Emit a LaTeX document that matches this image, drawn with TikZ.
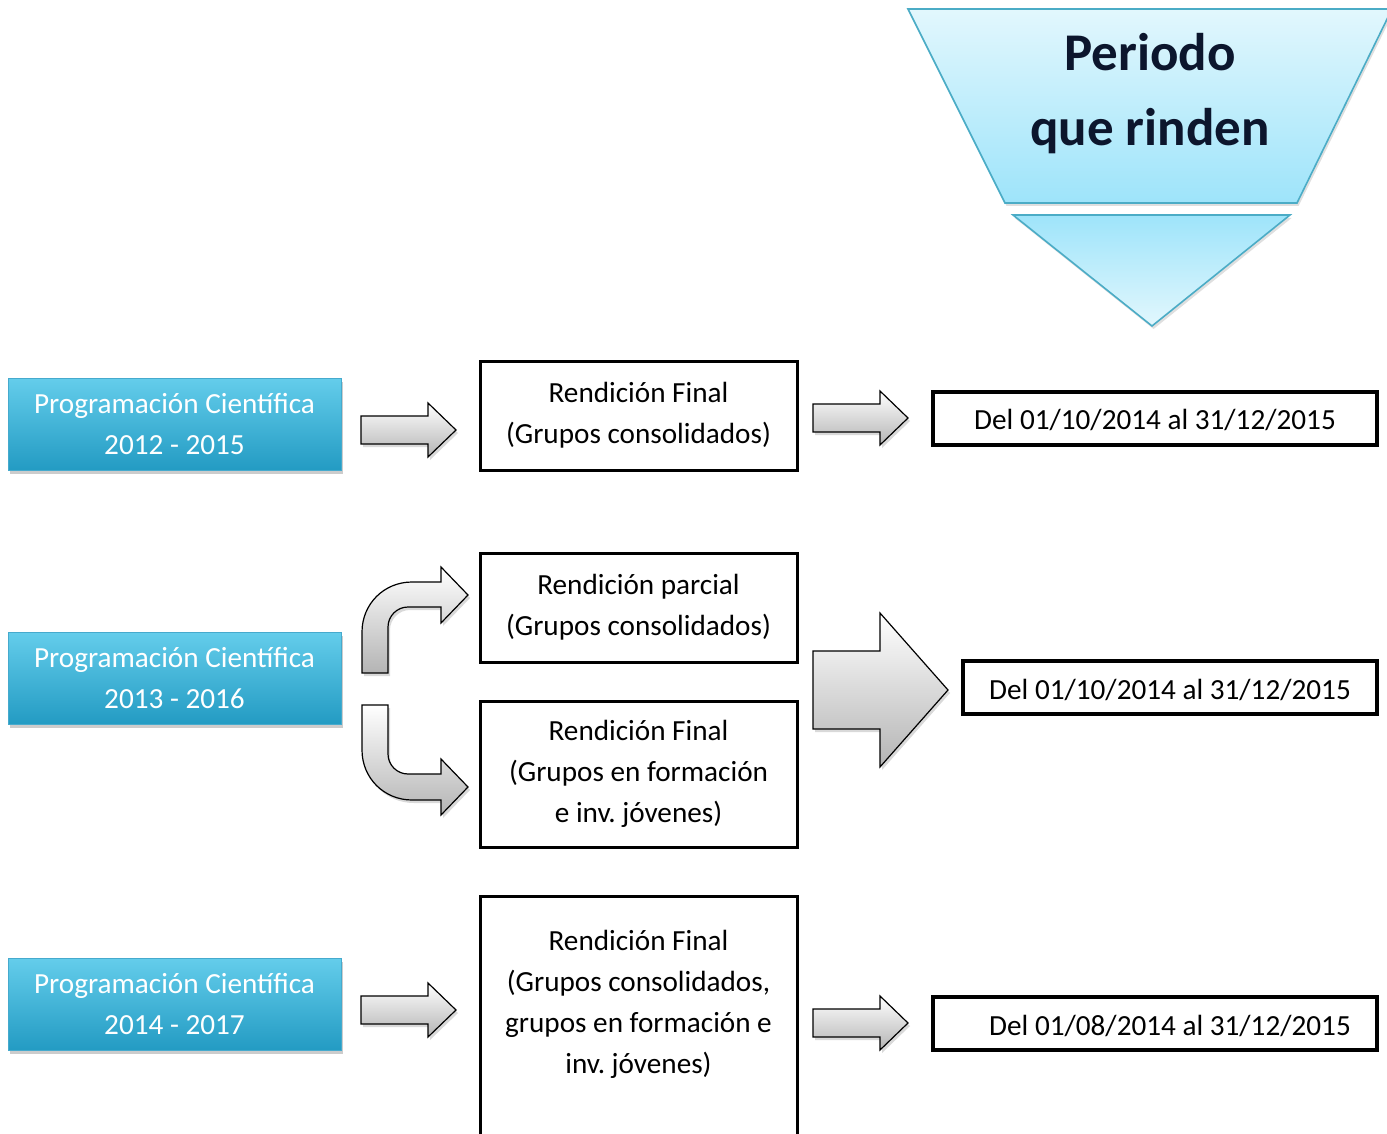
\documentclass[tikz,border=0pt]{standalone}
\usepackage{fontspec}
\setmainfont{Carlito}
\frenchspacing
\usetikzlibrary{shadows}
\definecolor{cProgTop}{RGB}{100,205,235}
\definecolor{cProgBot}{RGB}{35,155,195}
\definecolor{cProgLine}{RGB}{70,170,205}
\definecolor{cFunTop}{RGB}{226,247,253}
\definecolor{cFunBot}{RGB}{158,228,250}
\definecolor{cFunLine}{RGB}{75,172,198}
\definecolor{cTitle}{RGB}{12,22,45}
\definecolor{cArrow}{RGB}{180,180,180}

\newcommand{\boxfont}{\fontsize{14.6}{20.5}\selectfont}
% block arrow: left x, mid y, tip x, half shaft, half head, head length
\newcommand{\blockarrow}[6]{%
  \draw[blk] (#1,#2-#4) -- (#3-#6,#2-#4) -- (#3-#6,#2-#5) -- (#3,#2)
    -- (#3-#6,#2+#5) -- (#3-#6,#2+#4) -- (#1,#2+#4) -- cycle;}

\begin{document}
\begin{tikzpicture}[
  x=0.5pt, y=-0.5pt,
  prog/.style={draw=cProgLine, top color=cProgTop, bottom color=cProgBot,
               text=white, align=center, inner sep=0pt, font=\boxfont,
               minimum width=166.5pt, minimum height=46pt,
               drop shadow={shadow xshift=1.2pt, shadow yshift=-1.8pt, opacity=0.4}},
  rbox/.style={draw, line width=1.5pt, fill=white, align=center, inner sep=0pt,
               minimum width=158.5pt, font=\boxfont},
  dbox/.style={draw, line width=2pt, fill=white, inner sep=0pt, font=\boxfont,
               minimum height=26.5pt, text height=11.5pt, text depth=-1pt},
  blk/.style={draw, line width=0.6pt, top color=white, bottom color=cArrow,
              drop shadow={shadow xshift=1pt, shadow yshift=-1.5pt, opacity=0.3}},
  funnel/.style={draw=cFunLine, line width=0.8pt,
                 drop shadow={shadow xshift=0.8pt, shadow yshift=-1.5pt, opacity=0.25}}
]
\useasboundingbox (0,0) rectangle (1387,1134);
\clip (0,0) rectangle (1387,1134);

%% Funnel
\draw[funnel, top color=cFunTop, bottom color=cFunBot]
  (908,9) -- (1392,9) -- (1297,203) -- (1005,203) -- cycle;
\draw[funnel, top color=cFunBot, bottom color=cFunTop]
  (1013,215) -- (1290,215) -- (1152,326) -- cycle;
\node[font=\fontsize{26.5}{37.5}\selectfont\bfseries, text=cTitle, align=center]
  (titulo) at (1150,94) {Periodo\\que rinden};

%% Programaciones
\node[prog] (prog12) at (174.5,424)  {Programación Científica\\2012 - 2015};
\node[prog] (prog13) at (174.5,678)  {Programación Científica\\2013 - 2016};
\node[prog] (prog14) at (174.5,1004) {Programación Científica\\2014 - 2017};

%% Rendiciones
\node[rbox, minimum height=54.5pt] (fin12) at (638.5,415.5)
  {Rendición Final\\(Grupos consolidados)};
\node[rbox, minimum height=54.5pt] (parc13) at (638.5,607.5)
  {Rendición parcial\\(Grupos consolidados)};
\node[rbox, minimum height=73pt] (fin13) at (638.5,774)
  {Rendición Final\\(Grupos en formación\\e inv. jóvenes)};
\node[rbox, minimum height=125.5pt, anchor=north] (fin14) at (638.5,895)
  {Rendición Final\\(Grupos consolidados,\\grupos en formación e\\inv. jóvenes)\\\mbox{}};

%% Periodos
\node[dbox, minimum width=222pt] (per12) at (1155,418)
  {Del 01/10/2014 al 31/12/2015};
\node[dbox, minimum width=207pt] (per13) at (1170,687.5)
  {Del 01/10/2014 al 31/12/2015};
\node[dbox, minimum width=222pt] (per14) at (1155,1023.5)
  {\hspace*{15pt}Del 01/08/2014 al 31/12/2015};

%% Flechas
\blockarrow{361}{430}{456}{14}{27}{28}
\blockarrow{813}{418}{908}{14}{27}{28}
\blockarrow{361}{1010}{456}{14}{27}{28}
\blockarrow{813}{1023}{908}{14}{27}{28}
\blockarrow{813}{690}{948}{39}{77}{68}

% bent arrows
\draw[blk] (362,673) -- (362,632) .. controls (362,604) and (384,582) .. (412,582)
  -- (441,582) -- (441,567) -- (468,595) -- (441,623) -- (441,607) -- (408,607)
  .. controls (397,607) and (388,616) .. (388,627) -- (388,673) -- cycle;
\draw[blk] (362,705) -- (362,750) .. controls (362,778) and (384,800) .. (412,800)
  -- (441,800) -- (441,815) -- (468,787) -- (441,759) -- (441,774) -- (408,774)
  .. controls (397,774) and (388,765) .. (388,754) -- (388,705) -- cycle;

\end{tikzpicture}
\end{document}
